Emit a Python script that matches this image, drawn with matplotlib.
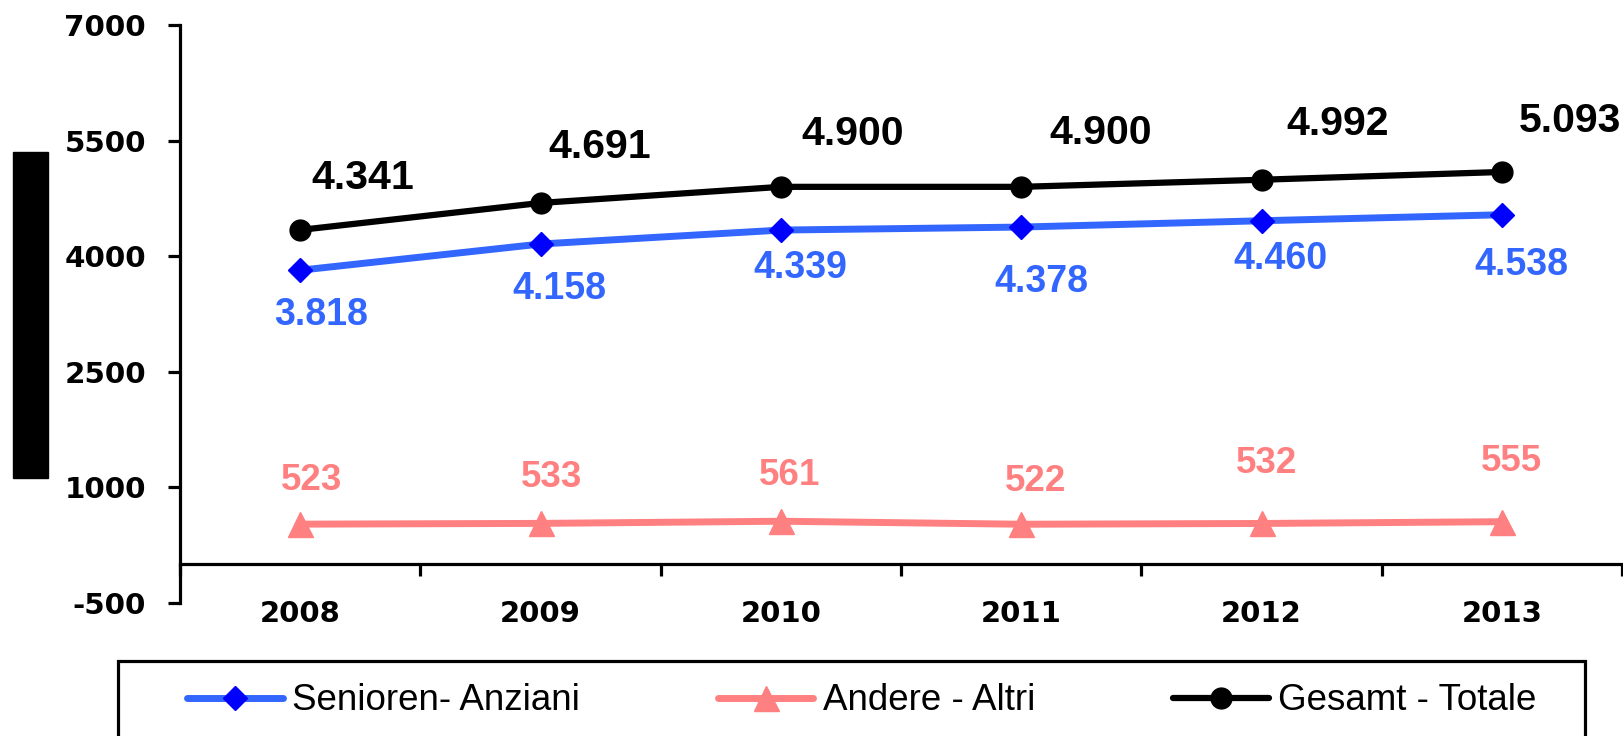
import numpy as np
import matplotlib
matplotlib.use("Agg")
import matplotlib.pyplot as plt
from matplotlib.patches import Rectangle

# data
years = ["2008", "2009", "2010", "2011", "2012", "2013"]
senioren = [3818, 4158, 4339, 4378, 4460, 4538]
andere = [523, 533, 561, 522, 532, 555]
gesamt = [4341, 4691, 4900, 4900, 4992, 5093]
senioren_txt = ["3.818", "4.158", "4.339", "4.378", "4.460", "4.538"]
andere_txt = ["523", "533", "561", "522", "532", "555"]
gesamt_txt = ["4.341", "4.691", "4.900", "4.900", "4.992", "5.093"]
y_ticks = [-500, 1000, 2500, 4000, 5500, 7000]
labels = ["Senioren- Anziani", "Andere - Altri", "Gesamt - Totale"]

# label offsets in pixels (layout only)
off_ges = [(63, 52), (59, 56), (72, 53), (79, 54), (76, 56), (68, 51)]
off_sen = [(21, -45), (19, -45), (19, -38), (20, -55), (19, -38), (20, -50)]
off_and = [(11, 44), (11, 46), (9, 46), (14, 43), (5, 60), (10, 60)]

BLUE = "#3366FF"
PINK = "#FF8080"
W, H = 1623, 736

fig = plt.figure(figsize=(W / 100, H / 100), dpi=100)
ax = fig.add_axes([180 / W, 1 - 603 / H, 1442 / W, 578 / H])
x = np.arange(len(years))

l1, = ax.plot(x, senioren, color=BLUE, lw=5, marker="D", ms=12.5,
              mfc="#0000FF", mec="#0000FF", solid_capstyle="round", zorder=3)
l2, = ax.plot(x, andere, color=PINK, lw=5, marker="^", ms=18,
              mfc=PINK, mec=PINK, solid_capstyle="round", zorder=3)
l3, = ax.plot(x, gesamt, color="black", lw=4.5, marker="o", ms=15,
              solid_capstyle="round", zorder=3)

lab_font = ["Liberation Sans", "DejaVu Sans"]
for i in range(len(x)):
    ax.annotate(gesamt_txt[i], (x[i], gesamt[i]), xytext=off_ges[i],
                textcoords="offset pixels", ha="center", va="center",
                fontsize=29.5, fontweight="bold", color="black", family=lab_font)
    ax.annotate(senioren_txt[i], (x[i], senioren[i]), xytext=off_sen[i],
                textcoords="offset pixels", ha="center", va="center",
                fontsize=27, fontweight="bold", color=BLUE, family=lab_font)
    ax.annotate(andere_txt[i], (x[i], andere[i]), xytext=off_and[i],
                textcoords="offset pixels", ha="center", va="center",
                fontsize=26.5, fontweight="bold", color=PINK, family=lab_font)

ax.set_xlim(-0.5, len(years) - 0.5)
ax.set_ylim(-500, 7000)
ax.set_yticks(y_ticks)
ax.set_yticklabels([str(v) for v in y_ticks])
ax.set_xticks(np.arange(-0.5, len(years), 1.0))
ax.set_xticklabels([])
ax.set_xticks(x, minor=True)
ax.set_xticklabels(years, minor=True)

for s in ["top", "right"]:
    ax.spines[s].set_visible(False)
ax.spines["left"].set_linewidth(2.3)
ax.spines["bottom"].set_linewidth(2.3)
ax.spines["bottom"].set_position(("data", 0))

ax.tick_params(axis="y", length=8.6, width=2.3, pad=16, labelsize=21.2)
ax.tick_params(axis="x", which="major", length=8.6, width=2.3, direction="out")
ax.tick_params(axis="x", which="minor", length=0, pad=25.5, labelsize=21)
for t in ax.get_yticklabels() + ax.get_xticklabels(minor=True):
    t.set_fontweight("bold")
    t.set_family("DejaVu Sans")

# black block on the left
fig.patches.append(Rectangle((13 / W, 1 - 478 / H), 35 / W, 326 / H,
                             transform=fig.transFigure, color="black"))

# legend frame + legend
fig.patches.append(Rectangle((118 / W, -0.1), (1585 - 118) / W, 0.1 + 1 - 661 / H,
                             transform=fig.transFigure, fill=False,
                             ec="black", lw=2.3, clip_on=False))
fig.legend([l1, l2, l3], labels, loc="center left", ncol=3,
           bbox_to_anchor=(187 / W, 1 - 701 / H), frameon=False, borderpad=0,
           borderaxespad=0, handlelength=2.6, handletextpad=0.25,
           columnspacing=3.75,
           prop={"family": "Liberation Sans", "size": 26.5})

fig.savefig("out.png", dpi=100)
